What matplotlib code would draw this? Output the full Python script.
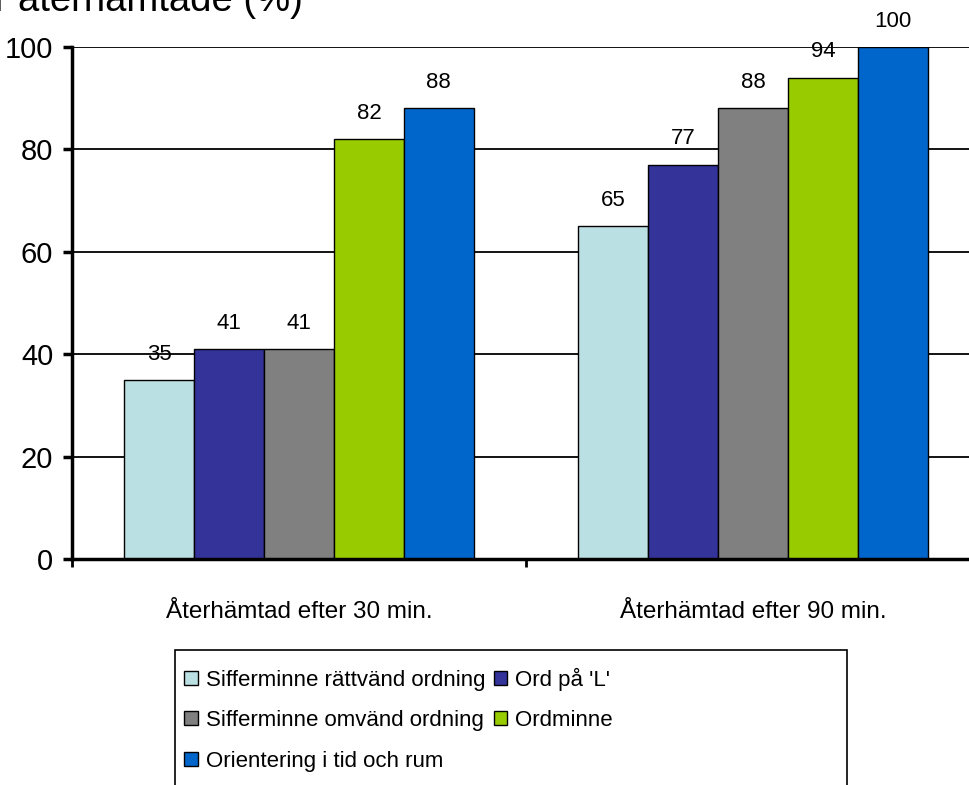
import matplotlib
matplotlib.use("Agg")
import matplotlib.pyplot as plt
import numpy as np
from matplotlib.patches import Patch, Rectangle

# Data
groups = ["Återhämtad efter 30 min.", "Återhämtad efter 90 min."]
series = ["Sifferminne rättvänd ordning", "Ord på 'L'",
          "Sifferminne omvänd ordning", "Ordminne",
          "Orientering i tid och rum"]
values = [
    [35, 65],
    [41, 77],
    [41, 88],
    [82, 94],
    [88, 100],
]
colors = ["#BBE0E3", "#333399", "#808080", "#99CC00", "#0066CC"]
title = "Andel patienter återhämtade (%)"

plt.rcParams["font.family"] = ["Liberation Sans", "DejaVu Sans"]

fig = plt.figure(figsize=(9.69, 7.85), dpi=100)
ax = fig.add_axes([72 / 969, 1 - 559 / 785, 908 / 969, 512 / 785])

x = np.arange(len(groups))
width = 0.154
for i, (name, vals) in enumerate(zip(series, values)):
    pos = x + (i - 2) * width
    bars = ax.bar(pos, vals, width, color=colors[i], edgecolor="black",
                  linewidth=1, label=name, zorder=2)
    for b, v in zip(bars, vals):
        ax.annotate(str(v), (b.get_x() + b.get_width() / 2, v),
                    xytext=(0, 11), textcoords="offset points",
                    ha="center", va="bottom", fontsize=16, zorder=3)

ax.set_xlim(-0.5, 1.5)
ax.set_ylim(0, 100)
ax.set_yticks([0, 20, 40, 60, 80, 100])
ax.yaxis.grid(True, color="black", linewidth=1.3, zorder=0)
ax.set_axisbelow(True)

# category boundaries as ticks, names centred under the groups
ax.set_xticks([-0.5, 0.5, 1.5])
ax.set_xticklabels([])
ax.set_xticks(x, minor=True)
ax.set_xticklabels(groups, minor=True, fontsize=17.5)
ax.tick_params(axis="x", which="minor", length=0, pad=30)
ax.tick_params(axis="x", which="major", direction="out", length=6,
               width=2)
ax.tick_params(axis="y", direction="out", length=6.5, width=2.5,
               labelsize=21, pad=7)

for s in ["top", "right"]:
    ax.spines[s].set_visible(False)
for s in ["left", "bottom"]:
    ax.spines[s].set_linewidth(2.5)

fig.text(303 / 969, 1 - 11 / 785, title, ha="right", va="baseline",
         fontsize=27.5)

# legend frame and entries (row-wise order)
fig.patches.append(Rectangle((175 / 969, -0.05), (847 - 175) / 969,
                             0.05 + 1 - 650 / 785, transform=fig.transFigure,
                             fill=False, edgecolor="black", linewidth=1.2))
handles = [Patch(facecolor=c, edgecolor="black", linewidth=1) for c in colors]
order = [0, 2, 4, 1, 3]
fig.legend([handles[i] for i in order], [series[i] for i in order],
           ncol=2, loc="upper left", bbox_to_anchor=(180 / 969, 1 - 663 / 785),
           frameon=False, fontsize=16, handlelength=0.6, handleheight=0.6,
           handletextpad=0.35, columnspacing=0.4, labelspacing=0.88,
           borderpad=0.2, borderaxespad=0)

fig.savefig("out.png", dpi=100)
